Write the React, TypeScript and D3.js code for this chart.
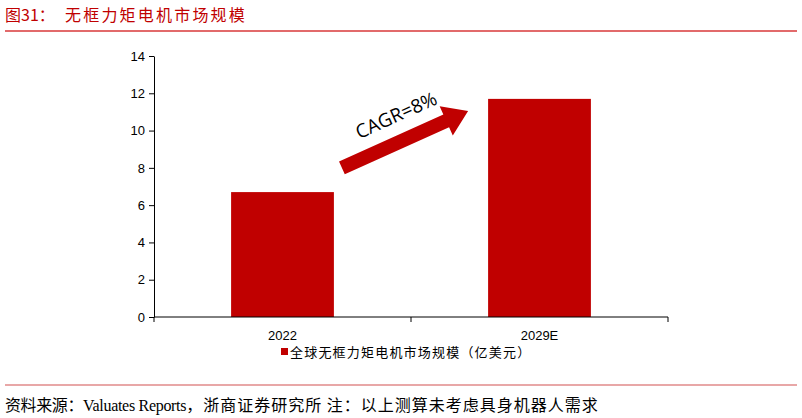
import { useEffect, useRef } from 'react';
import * as d3 from 'd3';

const categories = ['2022', '2029E'];
const marketSize = [6.7, 11.7];
const yTicks = [0, 2, 4, 6, 8, 10, 12, 14];
const seriesName = '全球无框力矩电机市场规模（亿美元）';
const cagrLabel = 'CAGR=8%';
const titleText = '图31：';
const titleName = '无框力矩电机市场规模';
const sourceParts = ['资料来源：', 'Valuates Reports', '，浙商证券研究所 注：以上测算未考虑具身机器人需求'];

const width = 802;
const height = 418;
const margin = { top: 56, right: 134, bottom: 101, left: 154 };
const barColor = '#c00000';
const cjkFont = '"Noto Sans CJK SC", "Liberation Serif", serif';
const latinSerif = '"Liberation Serif", "Times New Roman", serif';
const axisFont = '"Liberation Sans", Arial, sans-serif';

const App = () => {
    const svgRef = useRef<SVGSVGElement>(null);

    useEffect(() => {
        d3.select(svgRef.current).selectAll('*').remove();
        const root = d3.select(svgRef.current);

        const innerW = width - margin.left - margin.right;
        const innerH = height - margin.top - margin.bottom;

        const x = d3.scaleBand().domain(categories).range([0, innerW]).paddingInner(0.6).paddingOuter(0.3);
        const xTick = d3.scaleBand().domain(categories).range([0, innerW]);
        const y = d3.scaleLinear().domain([0, 14]).range([innerH, 0]);

        // header
        root.append('text')
            .attr('x', 5)
            .attr('y', 21)
            .attr('fill', '#c00000')
            .style('font-family', cjkFont)
            .style('font-size', '16px')
            .text(titleText);
        root.append('text')
            .attr('x', 65)
            .attr('y', 21)
            .attr('fill', '#c00000')
            .style('font-family', cjkFont)
            .style('font-size', '16px')
            .style('letter-spacing', '2.2px')
            .text(titleName);
        root.append('line')
            .attr('x1', 5)
            .attr('x2', 797)
            .attr('y1', 31)
            .attr('y2', 31)
            .attr('stroke', '#d9383a')
            .attr('stroke-width', 1.5);

        const g = root.append('g').attr('transform', `translate(${margin.left},${margin.top})`);

        // bars
        g.selectAll('rect.bar')
            .data(categories)
            .join('rect')
            .attr('class', 'bar')
            .attr('x', d => x(d) ?? 0)
            .attr('y', (_d, i) => y(marketSize[i]))
            .attr('width', x.bandwidth())
            .attr('height', (_d, i) => y(0) - y(marketSize[i]))
            .attr('fill', barColor);

        // y axis
        const yAxis = g.append('g').call(d3.axisLeft(y).tickValues(yTicks).tickSize(5).tickSizeOuter(0));
        yAxis.select('.domain').attr('stroke', '#000');
        yAxis.selectAll('.tick line').attr('stroke', '#000');
        yAxis.selectAll('.tick text')
            .attr('x', -9)
            .style('font-family', axisFont)
            .style('font-size', '13px')
            .attr('fill', '#000');

        // x axis
        const xAxis = g.append('g').attr('transform', `translate(0,${innerH})`);
        xAxis.append('line')
            .attr('x1', 0)
            .attr('x2', innerW)
            .attr('stroke', '#000');
        const tickPos = [0, ...categories.map(c => (xTick(c) ?? 0) + xTick.bandwidth())];
        xAxis.selectAll('line.tick')
            .data(tickPos)
            .join('line')
            .attr('class', 'tick')
            .attr('x1', d => d)
            .attr('x2', d => d)
            .attr('y1', 0)
            .attr('y2', 5)
            .attr('stroke', '#000');
        xAxis.selectAll('text')
            .data(categories)
            .join('text')
            .attr('x', d => (x(d) ?? 0) + x.bandwidth() / 2)
            .attr('y', 23)
            .attr('text-anchor', 'middle')
            .style('font-family', axisFont)
            .style('font-size', '13px')
            .text(d => d);

        // CAGR arrow between bars
        const x0 = (x(categories[0]) ?? 0) + x.bandwidth() + 8;
        const y0 = y(8);
        const x1 = (x(categories[1]) ?? 0) - 20;
        const y1 = y(11.05);
        const len = Math.hypot(x1 - x0, y1 - y0);
        const ang = (Math.atan2(y1 - y0, x1 - x0) * 180) / Math.PI;
        const shaft = 7;
        const headLen = 24;
        const headHalf = 16;
        const arrow = g.append('g').attr('transform', `translate(${x0},${y0}) rotate(${ang})`);
        arrow.append('path')
            .attr(
                'd',
                `M0,${-shaft} L${len - headLen},${-shaft} L${len - headLen},${-headHalf} L${len},0 L${len - headLen},${headHalf} L${len - headLen},${shaft} L0,${shaft} Z`
            )
            .attr('fill', barColor);
        arrow.append('text')
            .attr('x', len * 0.5 + 2)
            .attr('y', -19)
            .attr('text-anchor', 'middle')
            .style('font-family', '"Open Sans", "Noto Sans", sans-serif')
            .style('font-size', '19px')
            .attr('fill', '#000')
            .text(cagrLabel);

        // legend
        const legend = root.append('g').attr('transform', `translate(281,352)`);
        legend.append('rect')
            .attr('x', 0)
            .attr('y', -4)
            .attr('width', 7)
            .attr('height', 7)
            .attr('fill', barColor);
        legend.append('text')
            .attr('x', 9)
            .attr('y', 5)
            .style('font-family', cjkFont)
            .style('font-size', '13px')
            .style('letter-spacing', '1.2px')
            .text(seriesName);

        // footer
        root.append('line')
            .attr('x1', 5)
            .attr('x2', 797)
            .attr('y1', 385)
            .attr('y2', 385)
            .attr('stroke', '#e08a8a')
            .attr('stroke-width', 1.5);
        const footer = root.append('text')
            .attr('x', 5)
            .attr('y', 411)
            .style('font-size', '16px')
            .attr('fill', '#000');
        footer.append('tspan')
            .style('font-family', cjkFont)
            .style('letter-spacing', '-0.4px')
            .text(sourceParts[0]);
        footer.append('tspan')
            .style('font-family', latinSerif)
            .style('letter-spacing', '-0.3px')
            .text(sourceParts[1]);
        footer.append('tspan')
            .style('font-family', cjkFont)
            .style('letter-spacing', '1px')
            .text(sourceParts[2]);
    }, []);

    return (
        <div style={{ width, height }}>
            <style>{'body{margin:0;}'}</style>
            <svg ref={svgRef} width={width} height={height} style={{ display: 'block', background: '#fff' }}></svg>
        </div>
    );
};

export default App;
